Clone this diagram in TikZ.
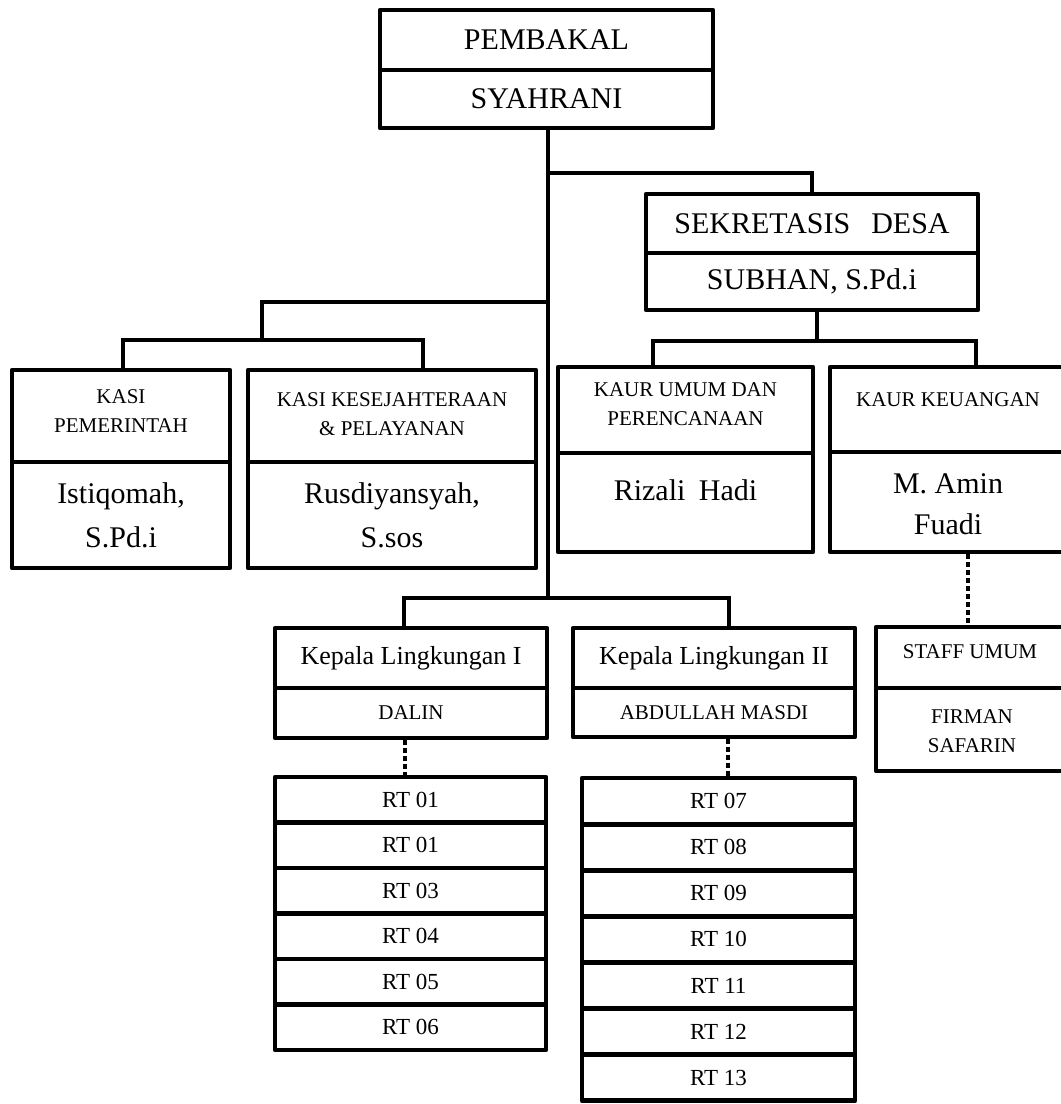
\documentclass[tikz,border=0pt]{standalone}
\usepackage{fontspec}
\setmainfont{Liberation Serif}
\usetikzlibrary{fit}
\begin{document}
\begin{tikzpicture}[x=1pt,y=-1pt,
  box/.style={draw, line width=4.8pt, inner sep=0pt, line join=round},
  conn/.style={line width=4.8pt},
  dots/.style={line width=4.8pt, dash pattern=on 4.5pt off 3.5pt},
  txt/.style={inner sep=0pt, align=center},
  fbig/.style={font=\fontsize{30}{45}\selectfont},
  fname/.style={font=\fontsize{30}{44}\selectfont},
  fmid/.style={font=\fontsize{26}{30}\selectfont},
  fsm/.style={font=\fontsize{21}{29}\selectfont},
  frt/.style={font=\fontsize{23}{26}\selectfont}
]
\useasboundingbox (0,0) rectangle (1061,1104);

% ---- top
\node[box, fit={(380,10) (713,70)}] (pembT) {};
\node[txt, fbig] (pembTx) at (pembT.center) {PEMBAKAL};
\node[box, fit={(380,70) (713,128)}] (pembN) {};
\node[txt, fbig] (pembNx) at (pembN.center) {SYAHRANI};

% ---- sekretaris
\node[box, fit={(646,194) (978,253)}] (sekT) {};
\node[txt, fbig] (sekTx) at (sekT.center) {SEKRETASIS\hspace{0.7em}DESA};
\node[box, fit={(646,253) (978,310)}] (sekN) {};
\node[txt, fbig] (sekNx) at (sekN.center) {SUBHAN, S.Pd.i};

% ---- kasi
\node[box, fit={(12,370) (230,462)}] (kasi1T) {};
\node[txt, fsm] (kasi1Tx) at ([yshift=5pt]kasi1T.center) {KASI\\PEMERINTAH};
\node[box, fit={(12,462) (230,568)}] (kasi1N) {};
\node[txt, fname] (kasi1Nx) at (kasi1N.center) {Istiqomah,\\S.Pd.i};
\node[box, fit={(248,370) (536,462)}] (kasi2T) {};
\node[txt, fsm] (kasi2Tx) at ([yshift=2pt]kasi2T.center) {KASI KESEJAHTERAAN\\\& PELAYANAN};
\node[box, fit={(248,462) (536,568)}] (kasi2N) {};
\node[txt, fname] (kasi2Nx) at (kasi2N.center) {Rusdiyansyah,\\S.sos};

% ---- kaur
\node[box, fit={(558,367) (813,453)}] (kaur1T) {};
\node[txt, fsm] (kaur1Tx) at ([yshift=6pt]kaur1T.center) {KAUR UMUM DAN\\PERENCANAAN};
\node[box, fit={(558,453) (813,552)}] (kaur1N) {};
\node[txt, fname] (kaur1Nx) at ([yshift=12pt]kaur1N.center) {Rizali\hspace{0.45em}Hadi};
\node[box, fit={(830,367) (1070,452)}] (kaur2T) {};
\node[txt, fsm] (kaur2Tx) at (948,400) {KAUR KEUANGAN};
\node[box, fit={(830,452) (1070,552)}] (kaur2N) {};
\node[txt, font=\fontsize{30}{41}\selectfont] (kaur2Nx) at (948,504) {M. Amin\\Fuadi};

% ---- staff
\node[box, fit={(876,627) (1070,688)}] (staffT) {};
\node[txt, fsm] (staffTx) at (970,652) {STAFF UMUM};
\node[box, fit={(876,688) (1070,771)}] (staffN) {};
\node[txt, fsm] (staffNx) at (972,731) {FIRMAN\\SAFARIN};

% ---- kepala lingkungan
\node[box, fit={(275,628) (547,688)}] (kep1T) {};
\node[txt, fmid] (kep1Tx) at (kep1T.center) {Kepala Lingkungan I};
\node[box, fit={(275,688) (547,738)}] (kep1N) {};
\node[txt, fsm] (kep1Nx) at (kep1N.center) {DALIN};
\node[box, fit={(573,628) (855,688)}] (kep2T) {};
\node[txt, fmid] (kep2Tx) at (kep2T.center) {Kepala Lingkungan II};
\node[box, fit={(573,688) (855,737)}] (kep2N) {};
\node[txt, fsm] (kep2Nx) at (kep2N.center) {ABDULLAH MASDI};

% ---- RT stacks
\foreach \i/\t in {1/01,2/01,3/03,4/04,5/05,6/06}{
  \node[box, fit={(275,{777+(\i-1)*45.5}) (546,{777+\i*45.5})}] (rtL\i) {};
  \node[txt, frt] (rtLx\i) at (rtL\i.center) {RT \t};
}
\foreach \i/\t in {1/07,2/08,3/09,4/10,5/11,6/12,7/13}{
  \node[box, fit={(582,{778+(\i-1)*46.1}) (855,{778+\i*46.1})}] (rtR\i) {};
  \node[txt, frt] (rtRx\i) at (rtR\i.center) {RT \t};
}

% ---- connectors
\coordinate (kepJ) at (548,598);
\coordinate (kasiJ) at (262,340);
\coordinate (kaurJ) at (817,341);
\draw[conn] (pembN.south -| kepJ) -- (kepJ);
\draw[conn] (kepJ |- 0,173) -| (sekT.north);
\draw[conn] (kepJ |- 0,302) -| (kasiJ);
\draw[conn] (kasi1T.north -| 123,0) |- (kasiJ) -| (kasi2T.north -| 423,0);
\draw[conn] (sekN.south -| kaurJ) -- (kaurJ);
\draw[conn] (kaur1T.north -| 653,0) |- (kaurJ) -| (kaur2T.north -| 976,0);
\draw[conn] (kep1T.north -| 404,0) |- (kepJ) -| (kep2T.north -| 729,0);
\draw[dots] (kep1N.south -| 405,0) -- (rtL1.north -| 405,0);
\draw[dots] (kep2N.south -| 728,0) -- (rtR1.north -| 728,0);
\draw[dots] (kaur2N.south -| 968,0) -- (staffT.north -| 968,0);
\end{tikzpicture}
\end{document}
